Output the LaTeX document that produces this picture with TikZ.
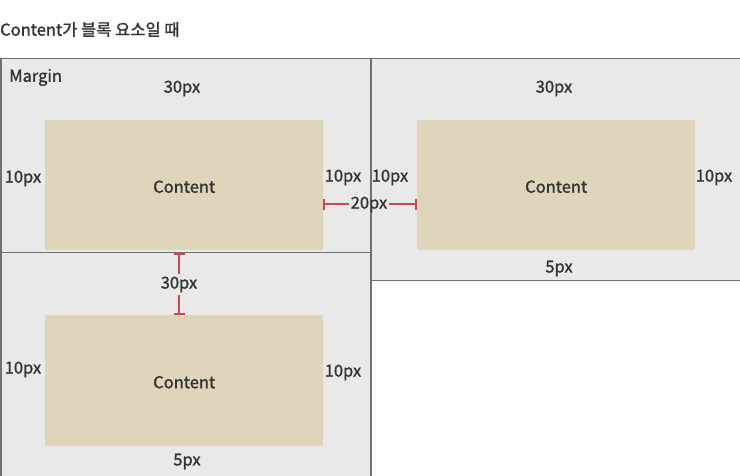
\documentclass[tikz,border=0pt]{standalone}
\usepackage{fontspec}
\setmainfont{Noto Sans CJK KR}
\usetikzlibrary{arrows.meta}
\definecolor{marginfill}{HTML}{E9E9E9}
\definecolor{contentfill}{HTML}{DFD5BA}
\definecolor{edgegray}{HTML}{707070}
\definecolor{textgray}{HTML}{333333}
\definecolor{dimred}{HTML}{C9474D}
\begin{document}
\begin{tikzpicture}[x=1pt, y=-1pt]
  \tikzset{
    margin_box/.style={draw=edgegray, fill=marginfill, line width=1.5pt, anchor=north west, inner sep=0pt},
    content_box/.style={fill=contentfill, anchor=north west, inner sep=0pt, minimum width=278, minimum height=130},
    lbl/.style={text=textgray, font=\addfontfeatures{FakeBold=1.3}\fontsize{16.5}{19}\selectfont, inner sep=2pt, yshift=-1.5pt},
    dim_line/.style={draw=dimred, line width=2pt, {Bar[width=11pt, line width=2pt]}-}
  }
  \useasboundingbox (0,0) rectangle (740,476);

  % 제목
  \node[lbl, anchor=west] (title) at (-2,28) {Content가 블록 요소일 때};

  % Margin 영역
  \node[margin_box, minimum width=370, minimum height=194] (m1) at (0,58) {};
  \node[margin_box, minimum width=370, minimum height=222] (m2) at (370,58) {};
  \node[margin_box, minimum width=370, minimum height=224] (m3) at (0,252) {};

  % Content 영역
  \node[content_box] (c1) at (45,120) {};
  \node[content_box] (c2) at (417,120) {};
  \node[content_box, minimum height=131] (c3) at (45,315) {};
  \node[lbl] (t1) at (c1.center) {Content};
  \node[lbl] (t2) at (c2.center) {Content};
  \node[lbl] (t3) at (c3.center) {Content};

  % 첫 번째 블록
  \node[lbl, anchor=west] (mlabel) at (7,76) {Margin};
  \node[lbl] (top1) at (182,87) {30px};
  \node[lbl] (left1) at (23,177) {10px};
  \node[lbl] (right1) at (343,176) {10px};

  % 두 번째 블록
  \node[lbl] (top2) at (554,87) {30px};
  \node[lbl] (left2) at (390,176) {10px};
  \node[lbl] (right2) at (714,176) {10px};
  \node[lbl] (bottom2) at (559,267) {5px};

  % 세 번째 블록
  \node[lbl] (left3) at (23,368) {10px};
  \node[lbl] (right3) at (343,371) {10px};
  \node[lbl] (bottom3) at (187,460) {5px};

  % 간격 표시
  \node[lbl] (gap20) at (369,203) {20px};
  \node[lbl] (gap30) at (179,283) {30px};
  \draw[dim_line] (gap20.west -| c1.east) -- (gap20.west);
  \draw[dim_line] (gap20.east -| c2.west) -- (gap20.east);
  \draw[dim_line] (gap30.north |- m1.south) -- (gap30.north);
  \draw[dim_line] (gap30.south |- c3.north) -- (gap30.south);
\end{tikzpicture}
\end{document}
